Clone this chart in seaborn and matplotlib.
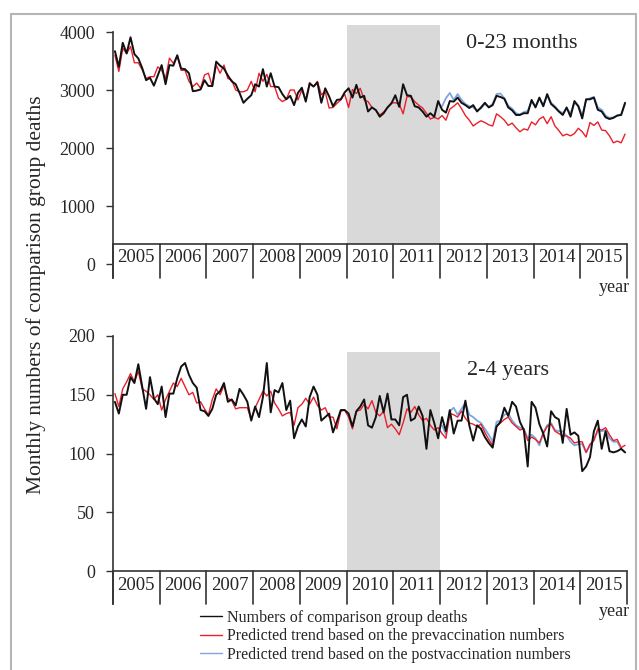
import numpy as np
import pandas as pd
import matplotlib
matplotlib.use("Agg")
import matplotlib.pyplot as plt
from matplotlib.lines import Line2D
import seaborn as sns

# ---------------- data ----------------
years = [str(y) for y in range(2005, 2016)]

top_black = [
    3670, 3400, 3815, 3630, 3910, 3620, 3545, 3380, 3170, 3210, 3075, 3250,
    3430, 3100, 3430, 3420, 3600, 3370, 3360, 3290, 2980, 2990, 3010, 3170,
    3070, 3070, 3490, 3420, 3370, 3250, 3150, 3100, 2950, 2780, 2850, 2910,
    3100, 3060, 3360, 3060, 3290, 3060, 3050, 2930, 2840, 2900, 2740, 2950,
    3040, 2800, 3110, 3060, 3130, 2780, 3030, 2890, 2720, 2830, 2840, 2960,
    3030, 2870, 3090, 2870, 2900, 2630, 2700, 2655, 2540, 2600, 2700, 2770,
    2910, 2710, 3100, 2910, 2900, 2720, 2700, 2630, 2540, 2600, 2540, 2810,
    2660, 2610, 2810, 2800, 2870, 2780, 2740, 2690, 2740, 2630, 2700, 2780,
    2700, 2740, 2900, 2880, 2850, 2700, 2650, 2570, 2570, 2600, 2600, 2830,
    2700, 2870, 2720, 2930, 2760, 2700, 2630, 2570, 2700, 2540, 2810, 2720,
    2510, 2840, 2840, 2870, 2660, 2630, 2530, 2500, 2520, 2560, 2570, 2780,
]
top_red = [
    3600, 3320, 3720, 3630, 3750, 3470, 3470, 3350, 3200, 3230, 3230, 3400,
    3340, 3200, 3550, 3460, 3590, 3340, 3340, 3150, 3060, 3120, 3030, 3260,
    3290, 3060, 3430, 3290, 3430, 3200, 3170, 3000, 2970, 2970, 3000, 3150,
    2970, 3290, 3150, 3270, 3060, 3060, 2860, 2800, 2840, 3000, 3000, 2830,
    3000, 2830, 3130, 3060, 3150, 2920, 2970, 2690, 2700, 2770, 2830, 2930,
    2700, 3010, 2940, 3030, 2830, 2800, 2700, 2650, 2570, 2620, 2700, 2780,
    2780, 2760, 2590, 2890, 2880, 2800, 2740, 2690, 2600, 2500, 2530, 2500,
    2560, 2480, 2670, 2720, 2780, 2680, 2560, 2480, 2380, 2430, 2470, 2440,
    2400, 2380, 2590, 2540, 2480, 2390, 2430, 2350, 2280, 2330, 2310, 2450,
    2400, 2500, 2540, 2420, 2540, 2380, 2300, 2210, 2240, 2210, 2250, 2340,
    2280, 2190, 2440, 2390, 2450, 2310, 2300, 2210, 2090, 2120, 2090, 2240,
]
top_blue = [
    2720, 2860, 2950, 2830, 2930, 2830, 2760, 2720, 2700, 2650, 2680, 2760,
    2710, 2760, 2930, 2940, 2860, 2730, 2680, 2600, 2580, 2620, 2640, 2800,
    2720, 2850, 2740, 2900, 2780, 2720, 2640, 2600, 2680, 2600, 2780, 2730,
    2560, 2830, 2860, 2880, 2700, 2660, 2560, 2520, 2530, 2560, 2580, 2760,
]

bot_black = [
    144, 134, 150, 150, 165, 160, 176, 157, 138, 165, 147, 142,
    157, 131, 151, 151, 164, 174, 177, 167, 160, 156, 137, 136,
    132, 138, 150, 153, 160, 144, 146, 141, 155, 150, 144, 128,
    140, 131, 148, 177, 135, 154, 152, 160, 137, 145, 113, 123,
    129, 123, 148, 157, 150, 128, 131, 134, 118, 127, 137, 137,
    134, 123, 136, 140, 146, 124, 122, 131, 149, 135, 151, 129,
    129, 124, 148, 150, 128, 130, 140, 132, 104, 137, 126, 113,
    131, 119, 137, 117, 128, 128, 145, 124, 111, 124, 121, 114,
    109, 105, 123, 127, 139, 132, 144, 140, 127, 120, 89, 144,
    139, 125, 117, 106, 136, 131, 129, 109, 138, 116, 118, 115,
    85, 89, 97, 119, 128, 104, 119, 102, 101, 102, 104, 101,
]
bot_red = [
    151, 140, 155, 161, 168, 161, 170, 155, 153, 150, 146, 150,
    137, 146, 153, 160, 157, 164, 157, 150, 152, 143, 144, 138,
    133, 146, 155, 150, 158, 147, 145, 138, 139, 139, 139, 129,
    139, 146, 153, 149, 153, 143, 138, 132, 134, 135, 124, 139,
    142, 147, 142, 148, 141, 137, 139, 131, 131, 121, 136, 137,
    131, 121, 136, 137, 142, 138, 145, 135, 132, 136, 122, 125,
    121, 116, 126, 138, 135, 140, 133, 128, 130, 124, 120, 122,
    117, 113, 134, 133, 131, 136, 130, 126, 125, 123, 125, 118,
    112, 107, 123, 126, 129, 131, 126, 123, 120, 121, 111, 114,
    112, 109, 117, 123, 125, 119, 117, 115, 115, 113, 109, 110,
    110, 101, 108, 111, 121, 120, 122, 116, 111, 112, 105, 107,
]
bot_blue = [
    124, 116, 136, 139, 133, 138, 143, 133, 131, 128, 126, 121,
    116, 110, 127, 128, 133, 134, 128, 124, 122, 121, 113, 116,
    113, 107, 118, 124, 126, 120, 119, 119, 115, 110, 107, 108,
    108, 101, 107, 112, 119, 119, 120, 113, 110, 110, 104, 101,
]

panel_titles = ["0-23 months", "2-4 years"]
legend_labels = ["Numbers of comparison group deaths",
                 "Predicted trend based on the prevaccination numbers",
                 "Predicted trend based on the postvaccination numbers"]
top_yticks = [0, 1000, 2000, 3000, 4000]
bot_yticks = [0, 50, 100, 150, 200]

# ---------------- style ----------------
sns.set_style("white")
plt.rcParams['font.family'] = ['Liberation Serif', 'DejaVu Serif']

BLACK = "#111111"
RED = "#e8202a"
BLUE = "#7ea6e0"
AXC = "#333333"

W, H = 639, 670
fig = plt.figure(figsize=(W / 100, H / 100), dpi=100)


def ax_at(l, t, r, b):
    return fig.add_axes([l / W, 1 - b / H, (r - l) / W, (b - t) / H])


months = np.arange(132) + 0.5
post_months = months[84:]


def setup(ax, black, red, blue, ylo, yhi, axis_y, label_y, shade_top, yticks, title, title_xy):
    n_years = len(years)
    # shading (2010-2011)
    ax.fill_between([60, 84], axis_y, shade_top, color="#d9d9d9", lw=0, zorder=0)
    sns.lineplot(x=post_months, y=blue, color=BLUE, lw=1.3, ax=ax, zorder=2)
    sns.lineplot(x=months, y=red, color=RED, lw=1.0, ax=ax, zorder=3)
    sns.lineplot(x=months, y=black, color=BLACK, lw=1.4, ax=ax, zorder=4)
    ax.set_xlim(0, 132)
    ax.set_ylim(ylo, yhi)
    ax.set_yticks(yticks)
    ax.set_xticks([])
    for s in ["top", "right", "bottom"]:
        ax.spines[s].set_visible(False)
    ax.spines["left"].set_bounds(ylo, yticks[-1])
    ax.spines["left"].set_color(AXC)
    ax.spines["left"].set_linewidth(1.2)
    ax.tick_params(axis="y", direction="out", length=5, width=1.0, color=AXC,
                   pad=8, labelsize=13, left=True)
    # category "table" axis
    ax.plot([0, 132], [axis_y, axis_y], color=AXC, lw=1.2, zorder=5, clip_on=False)
    for k in range(n_years + 1):
        ax.plot([12 * k, 12 * k], [ylo, axis_y], color=AXC, lw=1.2, zorder=5, clip_on=False)
    for k, yr in enumerate(years):
        ax.text(12 * k + 6, label_y, yr, ha="center", va="center", fontsize=13.5)
    ax.set_xlabel("")
    ax.set_ylabel("")
    fig.text(title_xy[0] / W, 1 - title_xy[1] / H, title, ha="center", va="center", fontsize=16)


ax1 = ax_at(113, 24.5, 627, 278)
setup(ax1, top_black, top_red, top_blue, -241, 4130, 345, 110, 4130, top_yticks,
      panel_titles[0], (522, 44))

ax2 = ax_at(113, 336, 627, 604)
setup(ax2, bot_black, bot_red, bot_blue, -28, 200, 0, -12, 186, bot_yticks,
      panel_titles[1], (508, 370))

fig.text(614 / W, 1 - 288 / H, "year", ha="center", va="center", fontsize=13)
fig.text(614 / W, 1 - 612 / H, "year", ha="center", va="center", fontsize=13)

fig.text(36 / W, 1 - 295 / H, "Monthly numbers of comparison group deaths",
         rotation=90, ha="center", va="center", fontsize=15.5)

handles = [Line2D([], [], color=BLACK, lw=1.0),
           Line2D([], [], color=RED, lw=1.0),
           Line2D([], [], color=BLUE, lw=1.0)]
fig.legend(handles, legend_labels, loc="upper left", bbox_to_anchor=(200 / W, 1 - 610 / H),
           frameon=False, fontsize=11.5, handlelength=1.4, handletextpad=0.3,
           borderpad=0, borderaxespad=0, labelspacing=0.15)

# outer grey frame
frame_col = "#b5b5b5"
fig.add_artist(Line2D([11 / W, 11 / W], [0, 1 - 14 / H], color=frame_col, lw=1.5, transform=fig.transFigure))
fig.add_artist(Line2D([11 / W, 636 / W], [1 - 14 / H, 1 - 14 / H], color=frame_col, lw=1.5, transform=fig.transFigure))
fig.add_artist(Line2D([636 / W, 636 / W], [0, 1 - 14 / H], color=frame_col, lw=1.5, transform=fig.transFigure))

fig.savefig("out.png", dpi=100)
